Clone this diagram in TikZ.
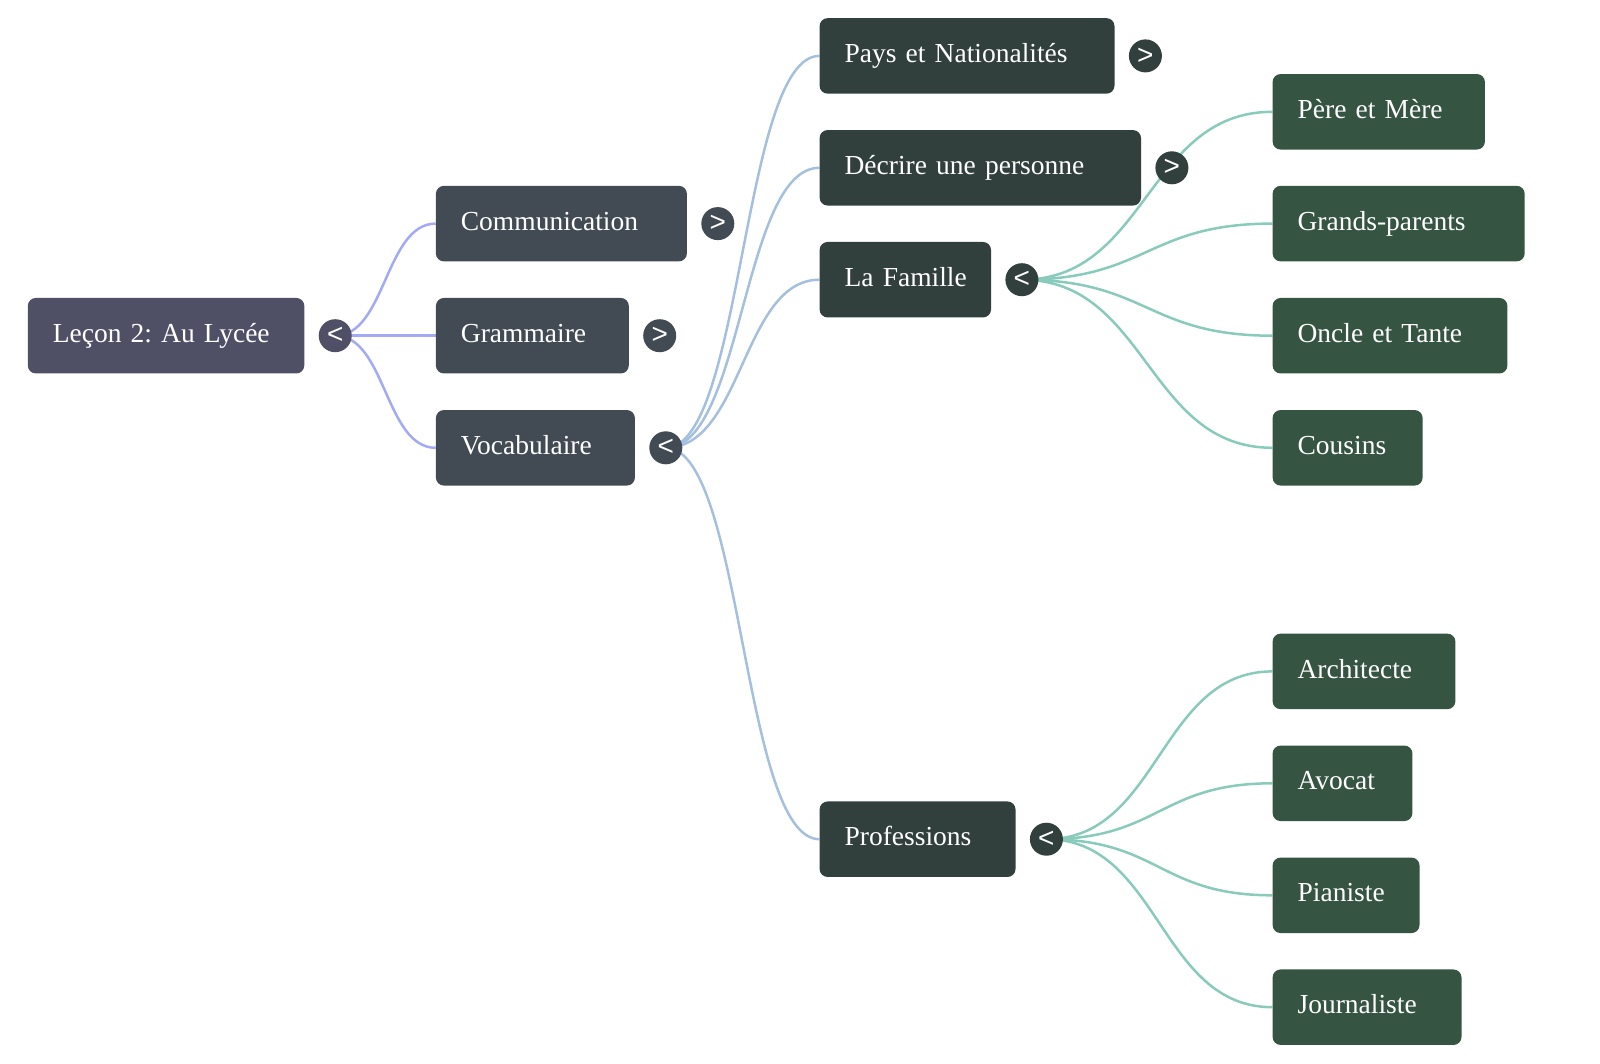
\documentclass[tikz,border=0pt]{standalone}
\usepackage{fontspec}
\setmainfont{Liberation Serif}
\newfontfamily\togglefont{Liberation Sans}
\usetikzlibrary{positioning}
\usetikzlibrary{backgrounds}
\frenchspacing

\definecolor{rootfill}{HTML}{4F5066}
\definecolor{onefill}{HTML}{424A54}
\definecolor{twofill}{HTML}{32403D}
\definecolor{threefill}{HTML}{365442}
\definecolor{onelink}{HTML}{A3AAF5}
\definecolor{twolink}{HTML}{A5C0DE}
\definecolor{threelink}{HTML}{88CBBB}

\begin{document}
\begin{tikzpicture}[x=1pt,y=-1pt,
	box/.style={rectangle,rounded corners=8pt,text=white,anchor=west,
		minimum height=75.5pt,inner xsep=25pt,inner ysep=0pt,align=left,
		text height=20pt,text depth=6.8pt,font=\fontsize{27.5}{33}\selectfont},
	root node/.style={box,fill=rootfill},
	one node/.style={box,fill=onefill},
	two node/.style={box,fill=twofill},
	three node/.style={box,fill=threefill},
	toggle/.style={circle,fill=#1,text=white,minimum size=33pt,inner sep=0pt,
		font=\togglefont\fontsize{28}{28}\selectfont},
	link/.style 2 args={draw=#1,line width=2.5pt,
		to path={.. controls +(#2,0) and +(-#2,0) .. (\tikztotarget)}}]
	
	\useasboundingbox (0,0) rectangle (1600,1063);
	
	% root
	\node[root node,text width=226.5pt] (root) at (27.6,335.7) {Leçon 2: Au Lycée};
	\node[toggle=rootfill] (t0) [right=14pt of root] {<};
	
	% first level
	\node[one node,text width=201pt] (comm) at (435.7,223.6) {Communication};
	\node[one node,text width=142.9pt] (gram) at (435.7,335.7) {Grammaire};
	\node[one node,text width=149pt] (voc) at (435.7,447.8) {Vocabulaire};
	\node[toggle=onefill] (tc) [right=14pt of comm] {>};
	\node[toggle=onefill] (tg) [right=14pt of gram] {>};
	\node[toggle=onefill] (tv) [right=14pt of voc] {<};
	
	% second level
	\node[two node,text width=244.9pt] (pays) at (819.4,55.9) {Pays et Nationalités};
	\node[two node,text width=271.4pt] (decr) at (819.4,167.8) {Décrire une personne};
	\node[two node,text width=121.4pt] (fam) at (819.4,279.7) {\mbox{La Famille}};
	\node[two node,text width=145.9pt] (prof) at (819.4,839.2) {Professions};
	\node[toggle=twofill] (tp) [right=14pt of pays] {>};
	\node[toggle=twofill] (td) [right=14pt of decr] {>};
	\node[toggle=twofill] (tf) [right=14pt of fam] {<};
	\node[toggle=twofill] (tr) [right=14pt of prof] {<};
	
	% third level
	\node[three node,text width=162.3pt] (pere) at (1272.4,111.8) {Père et Mère};
	\node[three node,text width=202.1pt] (grands) at (1272.4,223.6) {Grands-parents};
	\node[three node,text width=184.8pt] (oncle) at (1272.4,335.7) {Oncle et Tante};
	\node[three node,text width=100pt] (cous) at (1272.4,447.8) {Cousins};
	\node[three node,text width=132.8pt] (archi) at (1272.4,671.4) {Architecte};
	\node[three node,text width=89.8pt] (avoc) at (1272.4,783.3) {Avocat};
	\node[three node,text width=96.9pt] (pian) at (1272.4,895.3) {Pianiste};
	\node[three node,text width=138.9pt] (journ) at (1272.4,1007.2) {Journaliste};
	
	\begin{scope}[on background layer]
	\path
	(t0.center) edge [link={onelink}{50.6}] (comm.west)
	(t0.center) edge [link={onelink}{50.6}] (gram.west)
	(t0.center) edge [link={onelink}{50.6}] (voc.west);
	\path
	(tv.center) edge [link={twolink}{77.1}] (pays.west)
	(tv.center) edge [link={twolink}{77.1}] (decr.west)
	(tv.center) edge [link={twolink}{77.1}] (fam.west)
	(tv.center) edge [link={twolink}{77.1}] (prof.west);
	\path
	(tf.center) edge [link={threelink}{125.5}] (pere.west)
	(tf.center) edge [link={threelink}{125.5}] (grands.west)
	(tf.center) edge [link={threelink}{125.5}] (oncle.west)
	(tf.center) edge [link={threelink}{125.5}] (cous.west)
	(tr.center) edge [link={threelink}{113.3}] (archi.west)
	(tr.center) edge [link={threelink}{113.3}] (avoc.west)
	(tr.center) edge [link={threelink}{113.3}] (pian.west)
	(tr.center) edge [link={threelink}{113.3}] (journ.west);
	\end{scope}
\end{tikzpicture}
\end{document}
